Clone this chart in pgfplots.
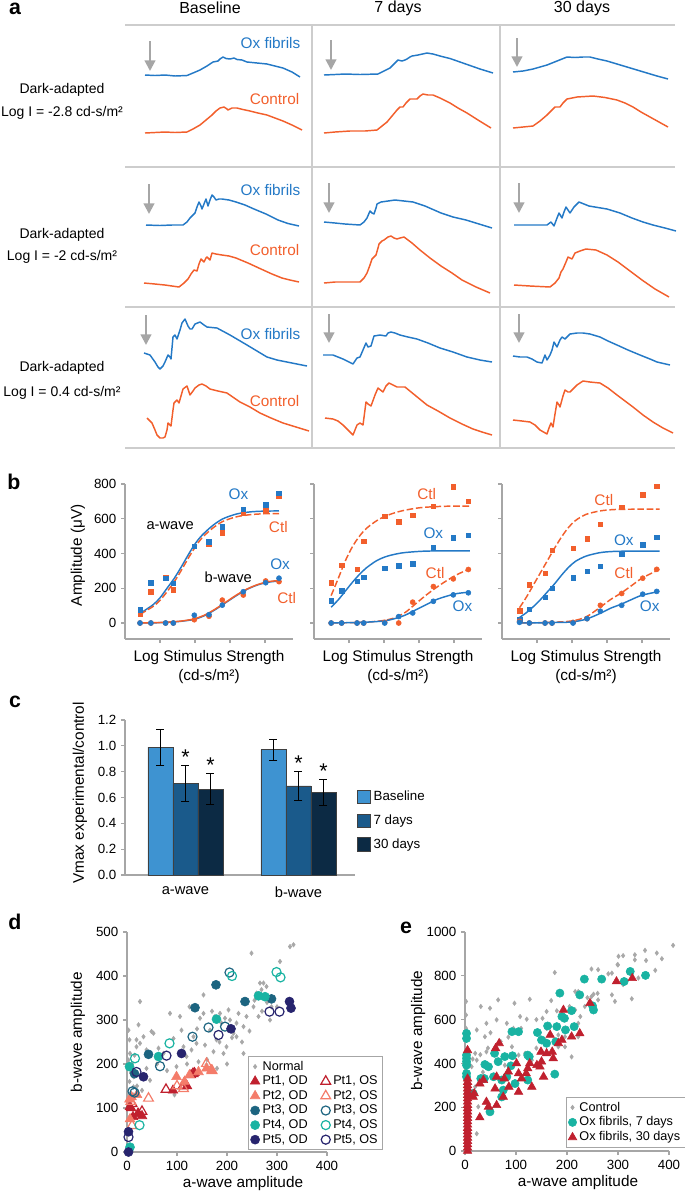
\documentclass[border=0pt]{standalone}
\usepackage{fontspec}
\setmainfont{Liberation Sans}
\usepackage{pgfplots}
\pgfplotsset{compat=1.18}
\usetikzlibrary{arrows.meta}
\definecolor{oxblue}{HTML}{2479C6}
\definecolor{ctlor}{HTML}{F25F2C}
\definecolor{agray}{HTML}{A6A6A6}
\definecolor{lgray}{HTML}{CDCDCD}
\definecolor{cbase}{HTML}{3E93D1}
\definecolor{c7}{HTML}{1A5A8B}
\definecolor{c30}{HTML}{0C2A44}
\definecolor{normgray}{HTML}{A8A8A8}
\definecolor{ptred}{HTML}{C0202E}
\definecolor{ptsal}{HTML}{F47C6A}
\definecolor{ptdteal}{HTML}{1C6480}
\definecolor{ptteal}{HTML}{19B3A2}
\definecolor{ptnavy}{HTML}{27246E}
\tikzset{
  blab/.style={font=\fontsize{11.5}{13}\selectfont, text=oxblue},
  olab/.style={font=\fontsize{11.5}{13}\selectfont, text=ctlor},
  rlab/.style={font=\fontsize{10.5}{12}\selectfont},
  garrow/.style={agray, line width=1.6pt, -{Triangle[length=8pt,width=8pt]}},
  gline/.style={lgray, line width=0.8pt},
  ast/.style={font=\fontsize{16}{18}\selectfont, anchor=south, inner sep=0.5pt}
}
\pgfplotsset{
  myaxis/.style={scale only axis, axis x line*=bottom, axis y line*=left,
    axis line style={-, draw=agray, line width=0.8pt},
    tick style={draw=agray, line width=0.8pt}, tick align=outside, major tick length=3pt,
    tick label style={font=\fontsize{10}{11}\selectfont},
    /pgf/number format/assume math mode=true, /pgf/number format/1000 sep={},
    label style={font=\fontsize{11.5}{14}\selectfont}, clip=false},
  trace/.style={line width=1.1pt, line join=round},
  fitb/.style={oxblue, line width=1.1pt, smooth},
  fito/.style={ctlor, line width=1.1pt, smooth, dash pattern=on 5pt off 2pt},
  sqb/.style={only marks, mark=square*, mark size=1.7pt, oxblue},
  sqo/.style={only marks, mark=square*, mark size=1.7pt, ctlor},
  cib/.style={only marks, mark=*, mark size=1.9pt, oxblue},
  cio/.style={only marks, mark=*, mark size=1.9pt, ctlor},
  panb/.style={myaxis, anchor=south west, width=126pt, height=116.25pt, xmin=0, xmax=4.8,
    ymin=-92, ymax=800, xtick={1,2,3,4}, xticklabels={}, ytick={0,200,400,600,800},
    xlabel={Log Stimulus Strength\\(cd-s/m²)},
    xlabel style={align=center, at={(axis description cs:0.5,-0.18)}, anchor=center}},
  scl/.style={legend image code/.code={\draw[mark repeat=2,mark phase=2,##1] plot coordinates {(0cm,0cm) (0.16cm,0cm) (0.32cm,0cm)};}}
}
\begin{document}
\begin{tikzpicture}[x=0.75pt,y=-0.75pt]
\path[use as bounding box] (0,0) rectangle (685,1193);
% ---------------- panel a
\begin{axis}[scale only axis, width=513.75pt, height=352.5pt, at={(0pt,0pt)}, anchor=north west,
  xmin=0, xmax=685, ymin=0, ymax=470, y dir=reverse, hide axis, clip=false]
\draw[gline] (axis cs:125,25) -- (axis cs:675,25);
\draw[gline] (axis cs:125,167) -- (axis cs:675,167);
\draw[gline] (axis cs:125,307) -- (axis cs:675,307);
\draw[gline] (axis cs:125,448) -- (axis cs:675,448);
\draw[gline] (axis cs:312,25) -- (axis cs:312,448);
\draw[gline] (axis cs:500,25) -- (axis cs:500,448);
\node[font=\bfseries\fontsize{16}{18}\selectfont] at (axis cs:15,9) {a};
\node[font=\fontsize{12}{14}\selectfont] at (axis cs:210,8) {Baseline};
\node[font=\fontsize{12}{14}\selectfont] at (axis cs:398,8) {7 days};
\node[font=\fontsize{12}{14}\selectfont] at (axis cs:582,8) {30 days};
\node[rlab] at (axis cs:62,90) {Dark-adapted};
\node[rlab] at (axis cs:62,235) {Dark-adapted};
\node[rlab] at (axis cs:62,368) {Dark-adapted};
\node[rlab] at (axis cs:62,113) {Log I = -2.8 cd-s/m²};
\node[rlab] at (axis cs:62,257) {Log I = -2 cd-s/m²};
\node[rlab] at (axis cs:62,393) {Log I = 0.4 cd-s/m²};
\node[blab, anchor=east] at (axis cs:305,43) {Ox fibrils};
\node[olab, anchor=east] at (axis cs:304,99) {Control};
\node[blab, anchor=east] at (axis cs:305,190) {Ox fibrils};
\node[olab, anchor=east] at (axis cs:304,250) {Control};
\node[blab, anchor=east] at (axis cs:305,334) {Ox fibrils};
\node[olab, anchor=east] at (axis cs:304,401) {Control};
\draw[garrow] (axis cs:150,41) -- (axis cs:150,71);
\draw[garrow] (axis cs:331,40) -- (axis cs:331,70);
\draw[garrow] (axis cs:517,38) -- (axis cs:517,67);
\draw[garrow] (axis cs:149,184) -- (axis cs:149,214);
\draw[garrow] (axis cs:329,183) -- (axis cs:329,213);
\draw[garrow] (axis cs:519,183) -- (axis cs:519,213);
\draw[garrow] (axis cs:146,315) -- (axis cs:146,345);
\draw[garrow] (axis cs:329,314) -- (axis cs:329,343);
\draw[garrow] (axis cs:519,314) -- (axis cs:519,343);
% row 1
\addplot[trace, oxblue] coordinates {(145,75)(155,75.5)(165,75)(175,76)(187,75.5)(193,73)(200,70)(207,66)(213,62)(218,61)(220,59)(223,57)(226,58.5)(230,59)(234,58)(237,59.5)(242,60)(247,62)(257,63)(267,64)(275,66)(283,68)(292,72)(300,77)};
\addplot[trace, ctlor] coordinates {(145,133)(155,132.5)(165,132)(175,132.5)(187,132)(193,129)(200,125)(206,120)(212,115)(216,111)(220,108)(224,107)(227,109)(228,110)(232,108)(237,108)(243,109.5)(250,111)(258,113)(267,115)(275,118)(283,121)(292,125)(302,130)};
\addplot[trace, oxblue] coordinates {(324,75)(335,74.5)(345,74)(360,74.5)(378,74)(384,71)(390,68)(395,63)(398,60)(402,61)(405,60)(407,59)(410,57)(412,56)(418,55)(427,53)(433,54)(440,56)(450,58.5)(460,62)(470,65.5)(480,69)(493,73)};
\addplot[trace, ctlor] coordinates {(324,133)(335,132)(350,131)(365,131)(377,130)(382,126)(387,122)(392,116)(397,110)(400,107)(403,107)(406,103)(410,99)(414,99)(417,99)(420,96)(423,94)(428,95)(433,95)(440,98)(450,103)(458,108)(467,113)(478,120)(491,128)};
\addplot[trace, oxblue] coordinates {(513,72)(523,71)(533,69)(540,67)(547,65)(552,63)(557,61)(562,59)(567,57)(575,57.5)(583,57)(590,57)(598,59)(607,61)(617,64)(627,67)(637,70)(647,73)(657,76)(668,79)};
\addplot[trace, ctlor] coordinates {(513,128)(523,127)(533,126)(540,121)(547,115)(551,111)(555,107)(558,107)(560,107)(563,103)(567,99)(572,98)(577,97)(585,96.5)(593,96)(605,97.5)(617,100)(625,103)(633,107)(641,112)(650,117)(659,122)(668,127)};
% row 2
\addplot[trace, oxblue] coordinates {(146,225)(160,225.5)(172,225)(183,225)(187,222)(190,218)(195,213)(197,207)(199,202)(201,206)(202,209)(204,204)(206,199)(208,206)(210,200)(212,195)(214,197)(216,200)(219,199)(222,199)(229,200)(236,202)(245,205)(254,209)(266,214)(278,220)(288,223.5)(299,226)};
\addplot[trace, ctlor] coordinates {(144,283)(155,284)(165,285)(172,286)(179,287)(184,283)(188,279)(191,274)(194,270)(197,271)(199,264)(201,259)(203,261)(204,262)(206,258)(207,257)(209,259)(210,260)(212,253)(216,254)(222,255)(229,256)(236,258)(248,263)(261,269)(272,274)(282,278)(290,280)(299,282)};
\addplot[trace, oxblue] coordinates {(324,222)(335,223)(345,224)(360,225)(364,222)(367,218)(370,211)(372,213)(374,214)(376,208)(377,204)(381,202)(388,201)(395,200)(404,201)(413,202)(425,206)(441,213)(453,217)(466,220)(479,224)(492,228)};
\addplot[trace, ctlor] coordinates {(324,283)(335,282)(348,282)(360,282)(364,278)(367,273)(370,265)(372,259)(376,255)(378,248)(379,244)(382,241)(384,240)(388,237)(391,236)(394,238)(397,239)(400,238)(404,237)(412,243)(420,250)(430,258)(441,266)(452,273)(462,280)(476,287)(490,293)};
\addplot[trace, oxblue] coordinates {(514,225)(530,225)(547,225)(551,222)(554,226)(557,218)(559,213)(562,218)(564,212)(566,207)(568,210)(570,213)(574,207)(579,202)(584,204)(589,206)(598,207.5)(607,209)(620,213)(632,218)(643,222)(653,225)(665,228)(676,231)};
\addplot[trace, ctlor] coordinates {(514,285)(530,286)(550,287)(555,283)(559,278)(561,272)(563,269)(566,262)(568,257)(570,258)(572,259)(574,255)(575,253)(580,251)(586,249)(591,249.5)(596,250)(607,255)(618,262)(630,271)(642,280)(655,289)(669,297)};
% row 3
\addplot[trace, oxblue] coordinates {(144,353)(150,355)(155,362)(158,367)(160,369)(163,366)(165,362)(168,355)(170,357)(171,359)(173,337)(175,335)(177,339)(180,330)(182,323)(185,319)(188,326)(190,329)(192,329)(195,324)(200,322)(204,325)(207,327)(217,328)(230,335)(247,345)(257,351)(267,357)(277,360)(287,362)(297,364)(307,366)};
\addplot[trace, ctlor] coordinates {(147,418)(152,423)(155,430)(157,435)(160,438)(163,438)(165,437)(167,430)(168,423)(170,425)(171,426)(173,410)(174,403)(177,400)(179,403)(181,396)(183,389)(187,386)(190,395)(193,391)(195,388)(199,385)(202,384)(206,386)(210,389)(218,391)(227,393)(240,402)(250,407)(260,413)(271,418)(283,423)(296,427)(309,431)};
\addplot[trace, oxblue] coordinates {(323,355)(333,355)(343,359)(348,361.5)(353,364)(357,358)(360,357)(363,350)(366,343)(368,347)(371,346)(374,336)(380,335)(386,336)(388,333)(391,332)(395,333)(400,335)(408,337)(417,339)(428,343)(440,348)(453,352)(467,357)(480,360)(492,362)};
\addplot[trace, ctlor] coordinates {(325,418)(333,419)(338,421)(343,425)(348,430)(353,435)(357,425)(360,423)(363,425)(366,402)(368,404)(371,406)(375,395)(378,388)(383,392)(386,386)(389,383)(393,385)(397,387)(405,387)(416,396)(427,405)(438,411)(450,418)(462,424)(473,429)(482,432)(492,435)};
\addplot[trace, oxblue] coordinates {(513,356)(520,357)(527,357)(532,359)(537,362)(542,363)(545,355)(547,360)(550,355)(552,350)(554,342)(557,347)(560,340)(562,337)(565,339)(568,336)(570,334)(577,333)(583,333)(590,334)(600,337)(608,341)(617,345)(628,350)(640,355)(650,359)(657,362)(670,365)};
\addplot[trace, ctlor] coordinates {(513,420)(522,421)(530,422)(535,425)(540,430)(547,434)(549,428)(551,423)(553,427)(555,414)(557,402)(559,405)(560,407)(563,396)(565,390)(568,392)(570,392)(574,388)(577,385)(583,381)(590,382)(600,383)(608,388)(617,395)(625,401)(633,407)(643,415)(653,422)(663,428)(673,433)};
\end{axis}
\node[font=\bfseries\fontsize{16}{18}\selectfont] at (14,482) {b};
\node[font=\bfseries\fontsize{16}{18}\selectfont] at (15,702) {c};
\node[font=\bfseries\fontsize{16}{18}\selectfont] at (15,922) {d};
\node[font=\bfseries\fontsize{16}{18}\selectfont] at (406,928) {e};
% ---------------- panel b
\begin{axis}[panb, at={(93.75pt,-479.25pt)}, ylabel={Amplitude (μV)},
  ylabel style={at={(axis description cs:-0.28,0.54)}, anchor=center}]
\addplot[fitb] coordinates {(0.43,55)(0.8,105)(1.0,145)(1.2,200)(1.4,255)(1.6,320)(1.8,390)(2.0,455)(2.2,505)(2.5,560)(2.8,600)(3.2,628)(3.6,640)(4.0,644)(4.4,645)};
\addplot[fito] coordinates {(0.43,50)(0.8,95)(1.0,130)(1.2,180)(1.4,235)(1.6,300)(1.8,370)(2.0,435)(2.2,490)(2.5,545)(2.8,585)(3.2,612)(3.6,624)(4.0,629)(4.4,630)};
\addplot[fitb] coordinates {(0.43,0)(1.0,2)(1.5,8)(1.8,15)(2.0,22)(2.3,45)(2.6,80)(2.9,120)(3.2,160)(3.5,195)(3.8,220)(4.1,235)(4.4,242)};
\addplot[ctlor, line width=1.1pt, smooth] coordinates {(0.43,0)(1.0,3)(1.5,9)(1.8,17)(2.0,25)(2.3,48)(2.6,83)(2.9,123)(3.2,163)(3.5,197)(3.8,222)(4.1,238)(4.4,245)};
\addplot[sqo] coordinates {(0.43,50)(0.74,180)(1.16,263)(1.38,190)(1.98,442)(2.40,457)(2.78,519)(3.38,635)(4.02,645)(4.40,732)};
\addplot[sqb] coordinates {(0.43,77)(0.74,232)(1.16,258)(1.38,229)(1.98,442)(2.40,467)(2.78,554)(3.38,655)(4.02,680)(4.40,748)};
\addplot[cio] coordinates {(0.43,0)(0.74,0)(1.16,0)(1.38,0)(1.98,19)(2.40,39)(2.78,132)(3.38,161)(4.02,242)(4.40,238)};
\addplot[cib] coordinates {(0.43,0)(0.74,0)(1.16,0)(1.38,0)(1.98,45)(2.40,48)(2.78,103)(3.38,180)(4.02,232)(4.40,258)};
\node[font=\fontsize{11}{13}\selectfont] at (axis cs:1.29,558) {a-wave};
\node[font=\fontsize{11}{13}\selectfont] at (axis cs:2.95,263) {b-wave};
\node[blab] at (axis cs:3.24,742) {Ox};
\node[olab] at (axis cs:4.38,554) {Ctl};
\node[blab] at (axis cs:4.43,341) {Ox};
\node[olab] at (axis cs:4.62,145) {Ctl};
\end{axis}
\begin{axis}[panb, at={(235.5pt,-479.25pt)}, yticklabels={}]
\addplot[fito] coordinates {(0.49,158)(0.7,260)(0.9,360)(1.1,440)(1.3,500)(1.5,545)(1.8,590)(2.1,620)(2.5,645)(3.0,663)(3.5,670)(4.0,673)(4.45,673)};
\addplot[fitb] coordinates {(0.49,91)(0.7,135)(0.9,185)(1.1,235)(1.3,280)(1.5,318)(1.8,360)(2.1,385)(2.5,403)(3.0,412)(3.5,415)(4.45,415)};
\addplot[fito] coordinates {(0.49,0)(1.0,2)(1.5,5)(2.0,15)(2.3,30)(2.6,60)(2.9,110)(3.2,160)(3.5,205)(3.8,245)(4.1,280)(4.45,312)};
\addplot[fitb] coordinates {(0.49,0)(1.0,2)(1.5,5)(2.0,12)(2.3,25)(2.6,45)(2.9,75)(3.2,105)(3.5,135)(3.8,155)(4.1,170)(4.45,178)};
\addplot[sqo] coordinates {(0.49,231)(0.79,332)(1.23,310)(1.42,470)(2.02,615)(2.42,582)(2.82,621)(3.41,673)(3.98,785)(4.41,702)};
\addplot[sqb] coordinates {(0.49,129)(0.79,187)(1.23,241)(1.42,264)(2.02,316)(2.42,328)(2.82,341)(3.41,434)(3.98,490)(4.41,505)};
\addplot[cio] coordinates {(0.49,0)(0.79,0)(1.23,0)(1.42,0)(2.02,4)(2.42,0)(2.82,120)(3.41,210)(3.98,254)(4.41,308)};
\addplot[cib] coordinates {(0.49,0)(0.79,0)(1.23,0)(1.42,0)(2.02,0)(2.42,37)(2.82,58)(3.41,125)(3.98,162)(4.41,174)};
\node[olab] at (axis cs:3.22,740) {Ctl};
\node[blab] at (axis cs:3.41,515) {Ox};
\node[olab] at (axis cs:3.46,289) {Ctl};
\node[blab] at (axis cs:4.24,94) {Ox};
\end{axis}
\begin{axis}[panb, at={(376.5pt,-479.25pt)}, yticklabels={}]
\addplot[fito] coordinates {(0.5,88)(0.7,150)(0.9,220)(1.1,290)(1.3,360)(1.5,430)(1.7,495)(1.9,550)(2.1,590)(2.4,625)(2.8,645)(3.2,653)(3.8,655)(4.5,655)};
\addplot[fitb] coordinates {(0.45,25)(0.7,60)(0.9,95)(1.1,135)(1.3,180)(1.5,225)(1.7,275)(1.9,320)(2.1,355)(2.4,385)(2.8,405)(3.2,412)(3.8,414)(4.5,414)};
\addplot[fito] coordinates {(0.5,0)(1.0,2)(1.5,5)(2.0,12)(2.4,35)(2.8,90)(3.1,135)(3.4,172)(3.7,215)(4.0,258)(4.5,309)};
\addplot[fitb] coordinates {(0.5,0)(1.0,1)(1.5,3)(2.0,6)(2.4,22)(2.8,55)(3.1,85)(3.4,108)(3.7,135)(4.0,160)(4.5,182)};
\addplot[sqo] coordinates {(0.50,72)(0.78,219)(1.23,287)(1.43,420)(2.03,430)(2.43,485)(2.81,567)(3.42,665)(4.02,737)(4.42,788)};
\addplot[sqb] coordinates {(0.50,20)(0.78,78)(1.23,147)(1.43,201)(2.03,260)(2.43,297)(2.81,326)(3.42,397)(4.02,450)(4.42,493)};
\addplot[cio] coordinates {(0.50,10)(0.78,0)(1.23,0)(1.43,0)(2.03,4)(2.43,25)(2.81,102)(3.42,170)(4.02,258)(4.42,309)};
\addplot[cib] coordinates {(0.50,4)(0.78,0)(1.23,0)(1.43,0)(2.03,0)(2.43,25)(2.81,68)(3.42,102)(4.02,166)(4.42,182)};
\node[olab] at (axis cs:2.91,710) {Ctl};
\node[blab] at (axis cs:3.48,475) {Ox};
\node[olab] at (axis cs:3.48,289) {Ctl};
\node[blab] at (axis cs:4.22,94) {Ox};
\end{axis}
% ---------------- panel c
\begin{axis}[myaxis, at={(93.75pt,-656.25pt)}, anchor=south west, width=172.5pt, height=116.25pt,
  ybar=0pt, bar width=18.75pt, xmin=-0.535, xmax=1.5, ymin=0, ymax=1.2,
  ytick={0,0.2,0.4,0.6,0.8,1.0,1.2},
  yticklabel style={/pgf/number format/fixed, /pgf/number format/fixed zerofill, /pgf/number format/precision=1},
  xtick={0,1}, xticklabels={a-wave, b-wave}, major x tick style={draw=none},
  xticklabel style={font=\fontsize{11}{13}\selectfont, yshift=-2pt},
  ylabel={Vmax experimental/control},
  ylabel style={at={(axis description cs:-0.196,0.53)}, anchor=center},
  legend style={at={(0.99,0.35)}, anchor=west, draw=none, font=\fontsize{10}{12}\selectfont, row sep=5pt},
  legend cell align=left,
  legend image code/.code={\draw[#1] (0pt,-5pt) rectangle (10pt,5pt);},
  error bars/y dir=both, error bars/y explicit,
  error bars/error bar style={black, line width=0.6pt},
  error bars/error mark options={rotate=90, mark size=3pt, line width=0.6pt, black}]
\addplot[fill=cbase, draw=black!75, line width=0.5pt] coordinates {(0,0.99) +- (0,0.14) (1,0.97) +- (0,0.08)};
\addplot[fill=c7, draw=black!75, line width=0.5pt] coordinates {(0,0.71) +- (0,0.14) (1,0.69) +- (0,0.115)};
\addplot[fill=c30, draw=black!75, line width=0.5pt] coordinates {(0,0.665) +- (0,0.12) (1,0.64) +- (0,0.10)};
\legend{Baseline, 7 days, 30 days}
\node[ast] at (axis cs:0,0.85) {*};
\node[ast] at (axis cs:0.221,0.785) {*};
\node[ast] at (axis cs:1,0.805) {*};
\node[ast] at (axis cs:1.221,0.74) {*};
\end{axis}
% ---------------- panel d
\begin{axis}[myaxis, scl, at={(95.25pt,-864pt)}, anchor=south west, width=150pt, height=165pt,
  xmin=0, xmax=400, ymin=0, ymax=500, xtick={0,100,200,300,400}, ytick={0,100,200,300,400,500},
  xlabel={a-wave amplitude}, ylabel={b-wave amplitude},
  xlabel style={at={(axis description cs:0.58,-0.141)}, anchor=center},
  ylabel style={at={(axis description cs:-0.245,0.545)}, anchor=center},
  legend columns=2, legend cell align=left,
  legend style={at={(0.605,0.436)}, anchor=north west, draw=agray, font=\fontsize{9.5}{11}\selectfont,
    inner sep=1.5pt, row sep=-1.2pt, /tikz/every even column/.append style={column sep=7pt}}]
\addplot[only marks, mark=diamond*, mark size=1.7pt, normgray] coordinates {(3,277)(26,342)(6,224)(3,209)(9,194)(13,171)(13,148)(19,239)(19,255)(26,247)(23,289)(33,262)(39,232)(39,190)(46,163)(49,274)(53,270)(63,236)(73,224)(86,315)(93,258)(99,194)(106,308)(109,277)(113,239)(119,217)(129,232)(133,262)(139,247)(143,205)(153,357)(153,315)(156,243)(159,198)(166,277)(173,228)(176,308)(179,255)(186,315)(189,293)(193,224)(199,239)(203,323)(206,300)(213,270)(219,262)(219,293)(223,315)(233,285)(233,224)(239,308)(249,452)(253,330)(259,361)(263,308)(266,384)(269,369)(273,384)(276,350)(279,376)(286,300)(289,330)(306,433)(326,467)(333,471)(196,304)(146,304)(206,285)(5,160)(8,180)(10,200)(5,255)(15,220)(12,130)(20,150)(30,140)(3,115)(60,200)(80,185)(95,130)(120,200)(160,210)(180,190)(200,200)(210,260)(230,250)(245,275)(255,345)(270,320)(280,340)(300,330)(185,250)(170,320)(140,280)(125,330)};
\addlegendentry{Normal}
\addlegendimage{empty legend}\addlegendentry{}
\addplot[only marks, mark=triangle*, mark size=4.2pt, ptred] coordinates {(8,100)(12,80)(22,88)(30,82)(92,140)(115,158)(120,150)(128,175)(135,180)(6,103)(23,87)};
\addlegendentry{Pt1, OD}
\addplot[only marks, mark=triangle, mark size=4.2pt, ptred, line width=0.9pt] coordinates {(30,92)(78,142)(112,150)(132,178)(10,110)};
\addlegendentry{Pt1, OS}
\addplot[only marks, mark=triangle*, mark size=4.2pt, ptsal] coordinates {(9,125)(5,120)(20,130)(99,171)(125,175)(143,182)(159,190)(169,186)(115,160)(6,75)};
\addlegendentry{Pt2, OD}
\addplot[only marks, mark=triangle, mark size=4.2pt, ptsal, line width=0.9pt] coordinates {(43,122)(113,144)(159,201)(170,185)(8,115)(100,150)(10,60)};
\addlegendentry{Pt2, OS}
\addplot[only marks, mark=*, mark size=3.4pt, ptdteal] coordinates {(43,222)(136,328)(178,380)(236,342)(289,348)(15,178)};
\addlegendentry{Pt3, OD}
\addplot[only marks, mark=o, mark size=3.4pt, ptdteal, line width=0.9pt] coordinates {(11,138)(66,195)(131,262)(163,283)(196,285)(205,408)(15,135)};
\addlegendentry{Pt3, OS}
\addplot[only marks, mark=*, mark size=3.4pt, ptteal] coordinates {(6,11)(5,194)(63,217)(179,302)(263,355)(276,353)};
\addlegendentry{Pt4, OD}
\addplot[only marks, mark=o, mark size=3.4pt, ptteal, line width=0.9pt] coordinates {(16,213)(25,61)(85,247)(210,400)(299,409)(307,397)};
\addlegendentry{Pt4, OS}
\addplot[only marks, mark=*, mark size=3.4pt, ptnavy] coordinates {(3,0)(3,46)(33,171)(109,224)(208,280)(325,342)(328,327)};
\addlegendentry{Pt5, OD}
\addplot[only marks, mark=o, mark size=3.4pt, ptnavy, line width=0.9pt] coordinates {(3,34)(19,182)(79,219)(183,266)(285,319)(305,319)};
\addlegendentry{Pt5, OS}
\end{axis}
% ---------------- panel e
\begin{axis}[myaxis, scl, at={(348.75pt,-863.25pt)}, anchor=south west, width=153pt, height=164.25pt,
  xmin=0, xmax=400, ymin=0, ymax=1000, xtick={0,100,200,300,400}, ytick={0,200,400,600,800,1000},
  xlabel={a-wave amplitude}, ylabel={b-wave amplitude},
  xlabel style={at={(axis description cs:0.554,-0.146)}, anchor=center},
  ylabel style={at={(axis description cs:-0.23,0.55)}, anchor=center},
  legend cell align=left,
  legend style={at={(0.495,0.247)}, anchor=north west, draw=agray, font=\fontsize{9.5}{11}\selectfont,
    inner sep=1.5pt, row sep=-1.2pt}]
\addplot[only marks, mark=diamond*, mark size=1.7pt, normgray] coordinates {(408,939)(376,904)(386,878)(353,916)(333,896)(333,873)(310,892)(301,889)(299,851)(288,812)(281,809)(373,825)(261,828)(248,831)(237,785)(222,728)(216,728)(235,660)(248,705)(252,716)(261,690)(288,713)(327,695)(294,683)(216,644)(226,614)(176,815)(169,687)(160,637)(152,606)(127,693)(121,602)(108,614)(97,675)(95,560)(82,583)(65,690)(62,599)(39,522)(42,583)(31,660)(49,652)(23,553)(20,446)(23,415)(13,385)(10,392)(42,453)(59,469)(92,476)(105,438)(118,446)(131,415)(78,392)(62,415)(20,293)(26,202)(23,79)(183,530)(196,522)(209,430)(222,522)(196,476)(183,476)(167,568)(157,507)(222,583)(2,683)(2,621)(2,560)(2,293)(2,202)(2,156)(270,780)(310,760)(340,790)(355,870)(300,850)(320,815)(240,700)(260,720)(205,660)(180,640)(140,600)(110,560)(85,520)(70,500)(50,540)(30,440)(15,420)(35,360)(45,470)(140,470)(160,560)};
\addlegendentry{Control}
\addplot[only marks, mark=*, mark size=3.1pt, ptteal] coordinates {(3,537)(3,514)(3,438)(3,423)(3,408)(3,392)(3,354)(3,339)(16,263)(31,331)(39,395)(46,385)(58,446)(56,339)(65,408)(75,278)(72,324)(78,431)(93,435)(90,389)(98,308)(92,545)(105,545)(123,438)(126,431)(123,324)(142,541)(150,507)(160,492)(162,571)(176,351)(178,499)(180,568)(186,721)(190,614)(195,606)(197,553)(209,641)(214,568)(225,713)(234,785)(250,663)(252,644)(268,785)(312,774)(324,820)(354,802)(49,179)(72,247)(38,331)(82,339)};
\addlegendentry{Ox fibrils, 7 days}
\addplot[only marks, mark=triangle*, mark size=3.7pt, ptred] coordinates {(5,0)(5,15)(5,30)(5,45)(5,60)(5,75)(5,90)(5,105)(5,120)(5,135)(5,150)(5,165)(5,180)(5,195)(5,210)(5,225)(5,240)(5,255)(5,270)(5,285)(5,300)(5,315)(5,330)(5,460)(16,247)(18,263)(29,153)(29,308)(36,324)(42,224)(46,202)(62,209)(62,339)(60,469)(67,492)(59,285)(75,247)(77,331)(85,362)(86,293)(105,354)(101,400)(105,270)(111,331)(123,377)(120,354)(127,400)(131,293)(141,392)(147,385)(149,453)(150,408)(154,339)(160,446)(171,453)(173,423)(167,530)(183,492)(190,507)(193,644)(209,522)(225,537)(245,675)(297,774)(328,789)};
\addlegendentry{Ox fibrils, 30 days}
\end{axis}
\end{tikzpicture}
\end{document}
